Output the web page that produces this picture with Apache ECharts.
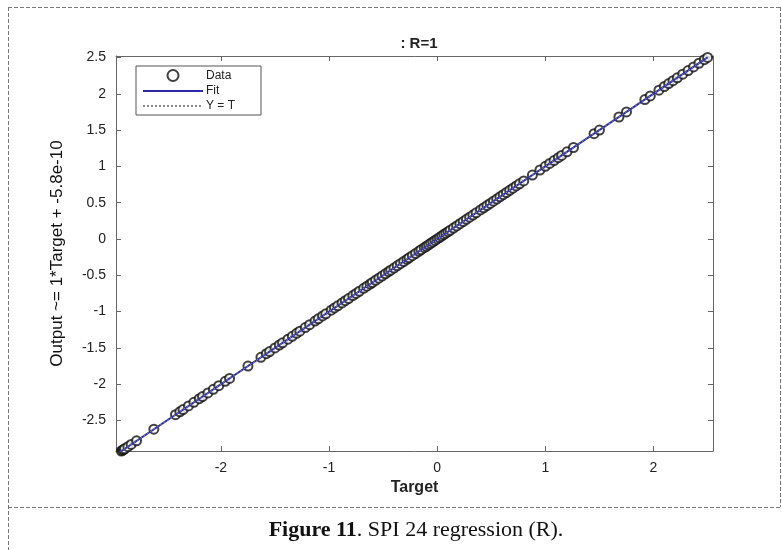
<!DOCTYPE html>
<html>
<head>
<meta charset="utf-8">
<script src="https://cdn.jsdelivr.net/npm/echarts@6/dist/echarts.min.js"></script>
<style>html,body{margin:0;padding:0;background:#fff}#c{width:782px;height:550px}</style>
</head>
<body>
<div id="c"></div>
<script>
const targets = [-2.93,-2.92,-2.91,-2.90,-2.89,-2.86,-2.83,-2.78,-2.62,-2.42,-2.38,-2.35,-2.30,-2.25,-2.20,-2.17,-2.12,-2.07,-2.02,-1.96,-1.92,-1.75,-1.63,-1.58,-1.55,-1.50,-1.46,-1.43,-1.38,-1.34,-1.30,-1.27,-1.22,-1.18,-1.13,-1.10,-1.06,-1.03,-0.98,-0.95,-0.92,-0.88,-0.85,-0.82,-0.78,-0.75,-0.72,-0.68,-0.65,-0.62,-0.60,-0.57,-0.54,-0.51,-0.48,-0.45,-0.43,-0.40,-0.37,-0.34,-0.31,-0.28,-0.26,-0.23,-0.20,-0.17,-0.15,-0.12,-0.10,-0.08,-0.06,-0.04,-0.02,0.00,0.02,0.04,0.06,0.08,0.10,0.12,0.15,0.18,0.21,0.24,0.27,0.30,0.33,0.36,0.40,0.43,0.46,0.49,0.52,0.55,0.58,0.61,0.64,0.67,0.70,0.73,0.76,0.80,0.88,0.95,1.00,1.04,1.08,1.12,1.15,1.20,1.26,1.45,1.50,1.68,1.75,1.92,1.97,2.05,2.10,2.14,2.18,2.22,2.27,2.32,2.37,2.42,2.47,2.50];
const outputs = [-2.93,-2.92,-2.91,-2.90,-2.89,-2.86,-2.83,-2.78,-2.62,-2.42,-2.38,-2.35,-2.30,-2.25,-2.20,-2.17,-2.12,-2.07,-2.02,-1.96,-1.92,-1.75,-1.63,-1.58,-1.55,-1.50,-1.46,-1.43,-1.38,-1.34,-1.30,-1.27,-1.22,-1.18,-1.13,-1.10,-1.06,-1.03,-0.98,-0.95,-0.92,-0.88,-0.85,-0.82,-0.78,-0.75,-0.72,-0.68,-0.65,-0.62,-0.60,-0.57,-0.54,-0.51,-0.48,-0.45,-0.43,-0.40,-0.37,-0.34,-0.31,-0.28,-0.26,-0.23,-0.20,-0.17,-0.15,-0.12,-0.10,-0.08,-0.06,-0.04,-0.02,0.00,0.02,0.04,0.06,0.08,0.10,0.12,0.15,0.18,0.21,0.24,0.27,0.30,0.33,0.36,0.40,0.43,0.46,0.49,0.52,0.55,0.58,0.61,0.64,0.67,0.70,0.73,0.76,0.80,0.88,0.95,1.00,1.04,1.08,1.12,1.15,1.20,1.26,1.45,1.50,1.68,1.75,1.92,1.97,2.05,2.10,2.14,2.18,2.22,2.27,2.32,2.37,2.42,2.47,2.50];
const fitX = [-2.93, 2.50];
const fitY = [-2.93, 2.50];
const identX = [-2.93, 2.50];
const identY = [-2.93, 2.50];
const xTicks = [-2, -1, 0, 1, 2];
const yTicks = [-2.5, -2, -1.5, -1, -0.5, 0, 0.5, 1, 1.5, 2, 2.5];
const xRange = [-2.97, 2.55];
const yRange = [-2.92, 2.52];

const chart = echarts.init(document.getElementById('c'), null, {renderer: 'canvas'});
const font = 'Liberation Sans, Arial, sans-serif';
const axisCommon = (ticks, showLabel) => ({
  type: 'value',
  splitLine: {show: false},
  axisLine: {show: true, onZero: false, lineStyle: {color: '#666', width: 1}},
  axisTick: {show: true, inside: true, length: 5, customValues: ticks, lineStyle: {color: '#666'}},
  axisLabel: {show: showLabel, customValues: ticks, color: '#222', fontSize: 14, fontFamily: font, margin: 10,
    formatter: v => String(v)}
});
const dashed = {stroke: '#777', lineWidth: 1, lineDash: [4, 2]};
const hidden = {color: 'rgba(0,0,0,0)', borderColor: 'rgba(0,0,0,0)', borderWidth: 0};
chart.setOption({
  animation: false,
  title: {text: ': R=1', left: 414, textAlign: 'center', top: 31,
    textStyle: {fontSize: 15, fontWeight: 'bold', color: '#222', fontFamily: font}},
  grid: {left: 116, right: 69, top: 56, bottom: 99, containLabel: false},
  legend: {
    orient: 'vertical', left: 136, top: 66, padding: [3, 26, 3, 6], itemGap: 3,
    itemWidth: 60, itemHeight: 11, borderColor: '#555', borderWidth: 1,
    backgroundColor: '#fff',
    textStyle: {fontSize: 12, color: '#222', fontFamily: font, padding: [0, 0, 0, -2]},
    data: [
      {name: 'Data'},
      {name: 'Fit', itemStyle: hidden},
      {name: 'Y = T', itemStyle: hidden}
    ]
  },
  xAxis: [
    Object.assign(axisCommon(xTicks, true), {min: xRange[0], max: xRange[1], position: 'bottom',
      name: 'Target', nameLocation: 'middle', nameGap: 29,
      nameTextStyle: {fontSize: 16, fontWeight: 'bold', color: '#222', fontFamily: font}}),
    Object.assign(axisCommon(xTicks, false), {min: xRange[0], max: xRange[1], position: 'top'})
  ],
  yAxis: [
    Object.assign(axisCommon(yTicks, true), {min: yRange[0], max: yRange[1], position: 'left',
      name: 'Output ~= 1*Target + -5.8e-10', nameLocation: 'middle', nameGap: 50,
      nameTextStyle: {fontSize: 17, color: '#111', fontFamily: font}}),
    Object.assign(axisCommon(yTicks, false), {min: yRange[0], max: yRange[1], position: 'right'})
  ],
  series: [
    {name: 'Data', type: 'scatter', symbol: 'emptyCircle', symbolSize: 9,
      itemStyle: {color: '#111', borderColor: '#111', borderWidth: 1},
      data: targets.map((t, i) => [t, outputs[i]]), z: 2},
    {name: 'Fit', type: 'line', symbol: 'none', showSymbol: false,
      lineStyle: {color: '#2a2aa8', width: 2}, itemStyle: {color: '#2a2aa8'},
      data: fitX.map((x, i) => [x, fitY[i]]), z: 3},
    {name: 'Y = T', type: 'line', symbol: 'none', showSymbol: false,
      lineStyle: {color: '#888', width: 1, type: [2, 2]}, itemStyle: {color: '#888'},
      data: identX.map((x, i) => [x, identY[i]]), z: 4}
  ],
  graphic: [
    {type: 'line', shape: {x1: 8, y1: 7.5, x2: 782, y2: 7.5}, style: dashed, silent: true},
    {type: 'line', shape: {x1: 8.5, y1: 7, x2: 8.5, y2: 550}, style: dashed, silent: true},
    {type: 'line', shape: {x1: 780.5, y1: 7, x2: 780.5, y2: 507}, style: dashed, silent: true},
    {type: 'line', shape: {x1: 8, y1: 507.5, x2: 782, y2: 507.5}, style: dashed, silent: true},
    {type: 'text', x: 416, y: 519, style: {
      text: '{b|Figure 11}. SPI 24 regression (R).',
      align: 'center',
      font: '22px "Liberation Serif", "Times New Roman", serif', fill: '#111',
      rich: {b: {fontWeight: 'bold', fontSize: 22, fontFamily: 'Liberation Serif', fill: '#111'}}
    }}
  ]
});
</script>
</body>
</html>
